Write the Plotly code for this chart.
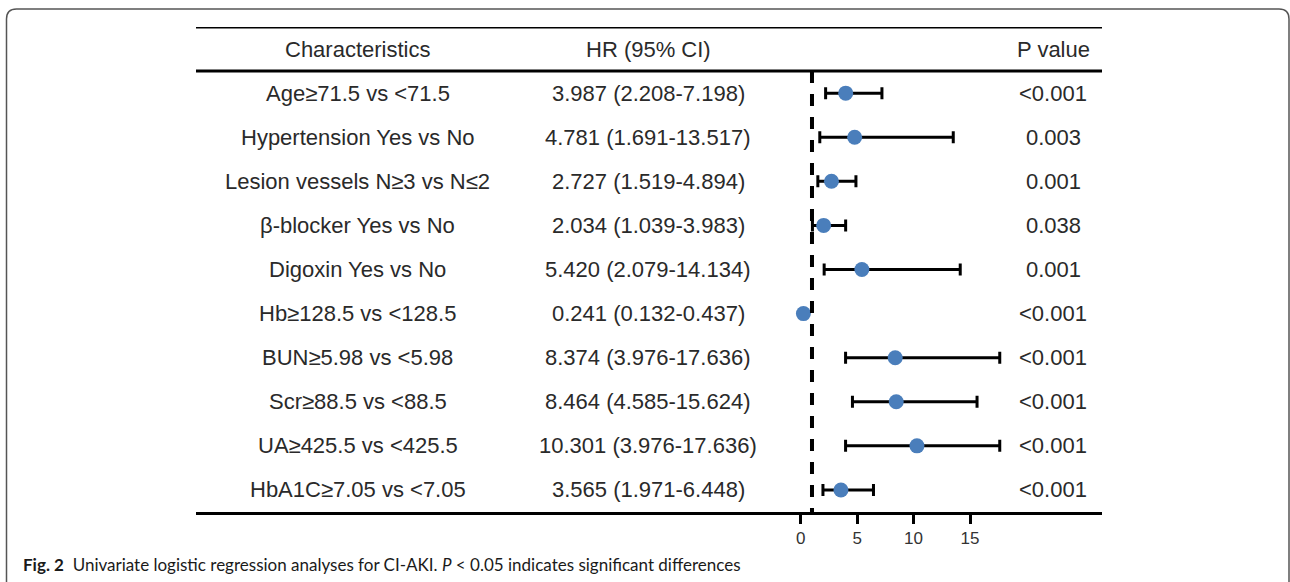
import plotly.graph_objects as go

# ---------------- data ----------------
characteristics = [
    "Age≥71.5 vs <71.5",
    "Hypertension Yes vs No",
    "Lesion vessels N≥3 vs N≤2",
    "β-blocker Yes vs No",
    "Digoxin Yes vs No",
    "Hb≥128.5 vs <128.5",
    "BUN≥5.98 vs <5.98",
    "Scr≥88.5 vs <88.5",
    "UA≥425.5 vs <425.5",
    "HbA1C≥7.05 vs <7.05",
]
hr = [3.987, 4.781, 2.727, 2.034, 5.420, 0.241, 8.374, 8.464, 10.301, 3.565]
ci_low = [2.208, 1.691, 1.519, 1.039, 2.079, 0.132, 3.976, 4.585, 3.976, 1.971]
ci_high = [7.198, 13.517, 4.894, 3.983, 14.134, 0.437, 17.636, 15.624, 17.636, 6.448]
p_values = ["<0.001", "0.003", "0.001", "0.038", "0.001",
            "<0.001", "<0.001", "<0.001", "<0.001", "<0.001"]
x_ticks = [0, 5, 10, 15]
headers = ["Characteristics", "HR (95% CI)", "P value"]
caption_bold = "Fig. 2"
caption_text = "Univariate logistic regression analyses for CI-AKI. <i>P</i> &lt; 0.05 indicates significant differences"
reference_line = 1

# ---------------- layout geometry (pixels) ----------------
W, H = 1290, 582
L, R = 196, 1102          # plot area left/right
T, B = 27, 512            # plot area top/bottom
X0_PX, PX_PER_UNIT = 800.7, 169.3 / 15
xmin = (L - X0_PX) / PX_PER_UNIT
xmax = (R - X0_PX) / PX_PER_UNIT


def px(xp):
    return (xp - L) / (R - L)


def py(yp):
    return (B - yp) / (B - T)


def esc(s):
    return s.replace("<", "&lt;").replace(">", "&gt;")


rows = list(range(1, len(characteristics) + 1))
err_plus = [h - v for h, v in zip(ci_high, hr)]
err_minus = [v - l for v, l in zip(hr, ci_low)]
hr_text = [f"{v:.3f} ({l:.3f}-{h:.3f})" for v, l, h in zip(hr, ci_low, ci_high)]

TEXT_FONT = dict(family="Liberation Sans, Arial, sans-serif", size=22, color="#2a2a2a")

fig = go.Figure()
fig.add_trace(go.Scatter(
    x=hr, y=rows, mode="markers",
    marker=dict(size=15, color="#4a7ebb", line=dict(width=0)),
    error_x=dict(type="data", symmetric=False, array=err_plus, arrayminus=err_minus,
                 color="black", thickness=3, width=6),
    showlegend=False, hoverinfo="skip",
))

annotations = []
col_x = [px(357.5), px(648), px(1053)]
for cx, htxt in zip(col_x, headers):
    annotations.append(dict(x=cx, y=0, xref="paper", yref="y", text=htxt,
                            showarrow=False, font=TEXT_FONT, xanchor="center", yanchor="middle"))
for r, c, h, p in zip(rows, characteristics, hr_text, p_values):
    for cx, t in zip(col_x, [c, h, p]):
        annotations.append(dict(x=cx, y=r, xref="paper", yref="y", text=esc(t),
                                showarrow=False, font=TEXT_FONT,
                                xanchor="center", yanchor="middle"))

annotations.append(dict(
    x=px(21), y=py(564), xref="paper", yref="paper",
    text=f"<b>{caption_bold}</b>  {caption_text}",
    showarrow=False, xanchor="left", yanchor="middle",
    font=dict(family="Lato, Open Sans, sans-serif", size=17, color="#1a1a1a"),
))

shapes = [
    dict(type="line", xref="paper", yref="y", x0=0, x1=1, y0=-0.5, y1=-0.5,
         line=dict(color="black", width=3)),
    dict(type="line", xref="paper", yref="y", x0=0, x1=1, y0=0.5, y1=0.5,
         line=dict(color="black", width=3)),
    dict(type="line", xref="x", yref="y", x0=reference_line, x1=reference_line,
         y0=0.5, y1=len(rows) + 0.5,
         line=dict(color="black", width=4, dash="12px,11px")),
]

# rounded frame around the figure
fx0, fy0, fx1 = 6.5, 9, 1289
rad = 10
path = (f"M {px(fx0)},{py(H + 5)} L {px(fx0)},{py(fy0 + rad)} "
        f"Q {px(fx0)},{py(fy0)} {px(fx0 + rad)},{py(fy0)} "
        f"L {px(fx1 - rad)},{py(fy0)} "
        f"Q {px(fx1)},{py(fy0)} {px(fx1)},{py(fy0 + rad)} "
        f"L {px(fx1)},{py(H + 5)}")
shapes.append(dict(type="path", xref="paper", yref="paper", path=path,
                   line=dict(color="#555555", width=1.5), layer="above"))

fig.update_layout(
    width=W, height=H,
    margin=dict(l=L, r=W - R, t=T, b=H - B, pad=0),
    paper_bgcolor="white", plot_bgcolor="white",
    xaxis=dict(range=[xmin, xmax], tickvals=x_ticks, ticktext=[str(t) for t in x_ticks],
               showgrid=False, zeroline=False, showline=True, linecolor="black",
               linewidth=3, ticks="outside", ticklen=9, tickwidth=3, tickcolor="black",
               tickfont=dict(family="Liberation Sans, Arial, sans-serif", size=17, color="#333333"),
               fixedrange=True),
    yaxis=dict(range=[len(rows) + 0.5, -0.5], showgrid=False, zeroline=False,
               showline=False, showticklabels=False, ticks="", fixedrange=True),
    annotations=annotations,
    shapes=shapes,
)

fig.write_html("out.html")
